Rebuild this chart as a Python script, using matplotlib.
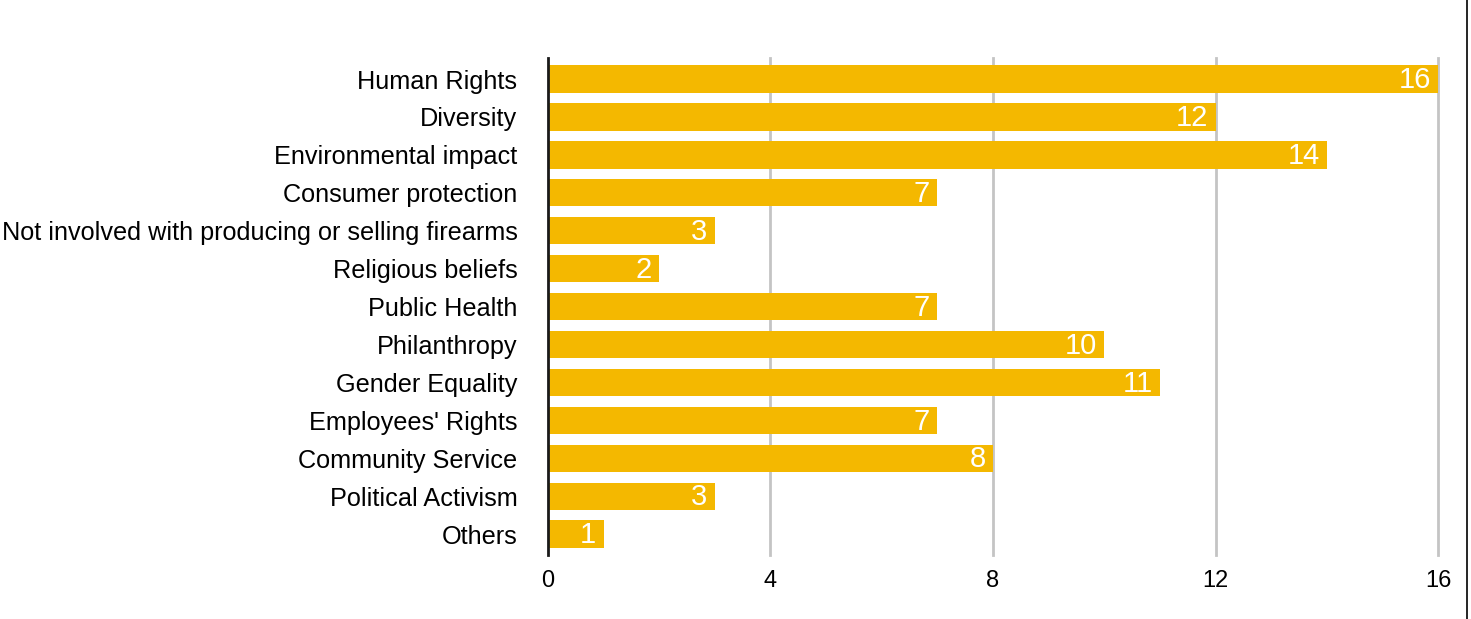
import matplotlib
matplotlib.use('Agg')
import matplotlib.pyplot as plt
from matplotlib.lines import Line2D

plt.rcParams['font.family'] = ['Liberation Sans', 'DejaVu Sans']

categories = ['Human Rights', 'Diversity', 'Environmental impact', 'Consumer protection',
              'Not involved with producing or selling firearms', 'Religious beliefs',
              'Public Health', 'Philanthropy', 'Gender Equality', "Employees' Rights",
              'Community Service', 'Political Activism', 'Others']
counts = [16, 12, 14, 7, 3, 2, 7, 10, 11, 7, 8, 3, 1]
xticks = [0, 4, 8, 12, 16]

bar_color = '#F4B800'

fig = plt.figure(figsize=(14.71, 6.19), dpi=100)
ax = fig.add_axes([0.3725, 0.1034, 0.6051, 0.8026])

ypos = list(range(len(categories)))
ax.barh(ypos, counts, height=0.72, color=bar_color, zorder=3)

# white count inside the end of each bar
for y, v in zip(ypos, counts):
    ax.text(v - 0.13, y + 0.03, str(v), ha='right', va='center', color='white',
            fontsize=21, zorder=4)

ax.set_xlim(0, 16)
ax.set_ylim(len(categories) - 0.45, -0.55)
ax.set_yticks(ypos)
ax.set_yticklabels(categories, fontsize=18.2)
ax.set_xticks(xticks)
ax.set_xticklabels([str(t) for t in xticks], fontsize=17)
ax.tick_params(axis='both', length=0)
ax.tick_params(axis='y', pad=22)
ax.tick_params(axis='x', pad=11)

for t in xticks[1:]:
    ax.axvline(t, color='#C4C4C4', lw=2, zorder=1, clip_on=False)

for s in ['top', 'right', 'bottom']:
    ax.spines[s].set_visible(False)
ax.spines['left'].set_linewidth(2)
ax.spines['left'].set_color('#1a1a1a')
ax.spines['left'].set_zorder(5)

# thin frame line at the right edge
fig.add_artist(Line2D([0.9975, 0.9975], [0, 1], transform=fig.transFigure,
                      color='black', lw=1.2))

fig.savefig('out.png', dpi=100)
